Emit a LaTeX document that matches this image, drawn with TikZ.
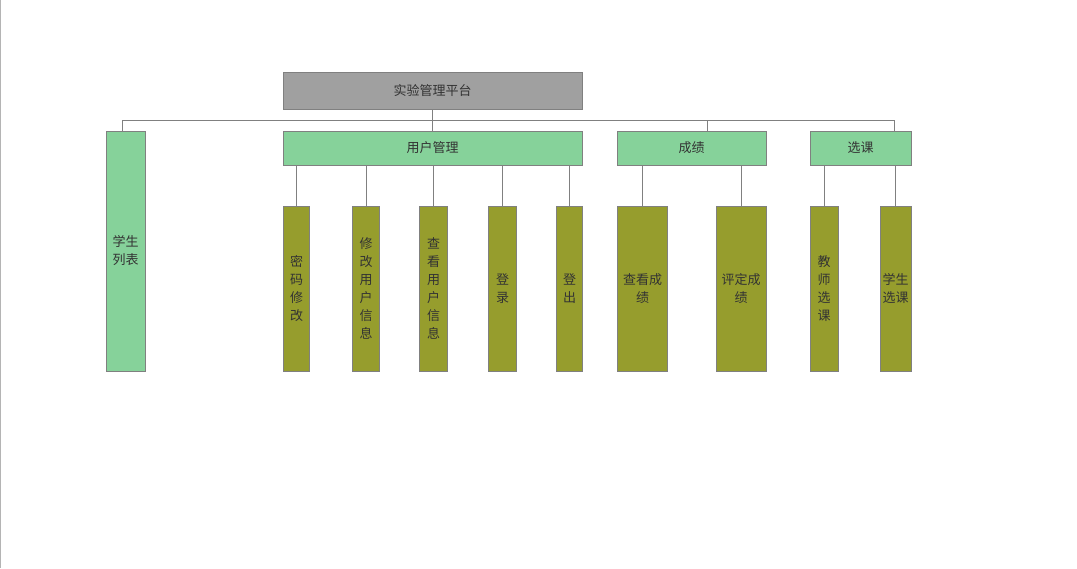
\documentclass[tikz,border=0pt]{standalone}
\usepackage{fontspec}
\setmainfont{Noto Sans CJK SC}
\definecolor{linegray}{HTML}{808080}
\definecolor{topfill}{HTML}{A0A0A0}
\definecolor{greenfill}{HTML}{86D29A}
\definecolor{olivefill}{HTML}{969D2D}
\definecolor{txt}{HTML}{333333}
\definecolor{edgegray}{HTML}{B4B4B4}
\begin{document}
\begin{tikzpicture}[x=1pt,y=-1pt,
  box/.style={draw=linegray,line width=1pt,inner sep=0pt,align=center,
    text=txt,font=\fontsize{13}{18}\selectfont},
  topbox/.style={box,fill=topfill},
  greenbox/.style={box,fill=greenfill},
  olivebox/.style={box,fill=olivefill},
  conn/.style={draw=linegray,line width=1pt}]
\useasboundingbox (0,0) rectangle (1077,568);
\fill[white] (0,0) rectangle (1077,568);
\draw[edgegray,line width=1.2pt] (0.6,0) -- (0.6,568);
% top
\node[topbox,minimum width=299pt,minimum height=37pt] (top) at (432.5,91) {实验管理平台};
% level 1
\node[greenbox,minimum width=39pt,minimum height=240pt] (stu) at (125.5,251) {学生\\列表};
\node[greenbox,minimum width=299pt,minimum height=34pt] (user) at (432.5,148) {用户管理};
\node[greenbox,minimum width=149pt,minimum height=34pt] (grade) at (691.5,148) {成绩};
\node[greenbox,minimum width=101pt,minimum height=34pt] (course) at (860.5,148) {选课};
% level 2
\node[olivebox,minimum width=26pt,minimum height=165pt] (pw) at (296.5,288.5) {密\\码\\修\\改};
\node[olivebox,minimum width=27pt,minimum height=165pt] (mod) at (366,288.5) {修\\改\\用\\户\\信\\息};
\node[olivebox,minimum width=28pt,minimum height=165pt] (view) at (433.5,288.5) {查\\看\\用\\户\\信\\息};
\node[olivebox,minimum width=28pt,minimum height=165pt] (login) at (502.5,288.5) {登\\录};
\node[olivebox,minimum width=26pt,minimum height=165pt] (logout) at (569.5,288.5) {登\\出};
\node[olivebox,minimum width=50pt,minimum height=165pt] (vg) at (642.5,288.5) {查看成\\绩};
\node[olivebox,minimum width=50pt,minimum height=165pt] (eg) at (741,288.5) {评定成\\绩};
\node[olivebox,minimum width=28pt,minimum height=165pt] (tc) at (824,288.5) {教\\师\\选\\课};
\node[olivebox,minimum width=31pt,minimum height=165pt] (sc) at (895.5,288.5) {学生\\选课};
% taps
\coordinate (bus) at (0,120.5);
\coordinate (stuTap) at (122.5,0);
\coordinate (gradeTap) at (707.5,0);
\coordinate (courseTap) at (894,0);
\draw[conn] (top.south) -- (top.south |- bus);
\draw[conn] (stuTap |- stu.north) -- (stuTap |- bus) -- (courseTap |- bus) -- (courseTap |- course.north);
\draw[conn] (user.north) -- (user.north |- bus);
\draw[conn] (gradeTap |- grade.north) -- (gradeTap |- bus);
% children connectors
\foreach \c in {pw,mod,view,login,logout}
  \draw[conn] (\c.north) -- (\c.north |- user.south);
\foreach \c in {vg,eg}
  \draw[conn] (\c.north) -- (\c.north |- grade.south);
\foreach \c in {tc,sc}
  \draw[conn] (\c.north) -- (\c.north |- course.south);
\end{tikzpicture}
\end{document}
